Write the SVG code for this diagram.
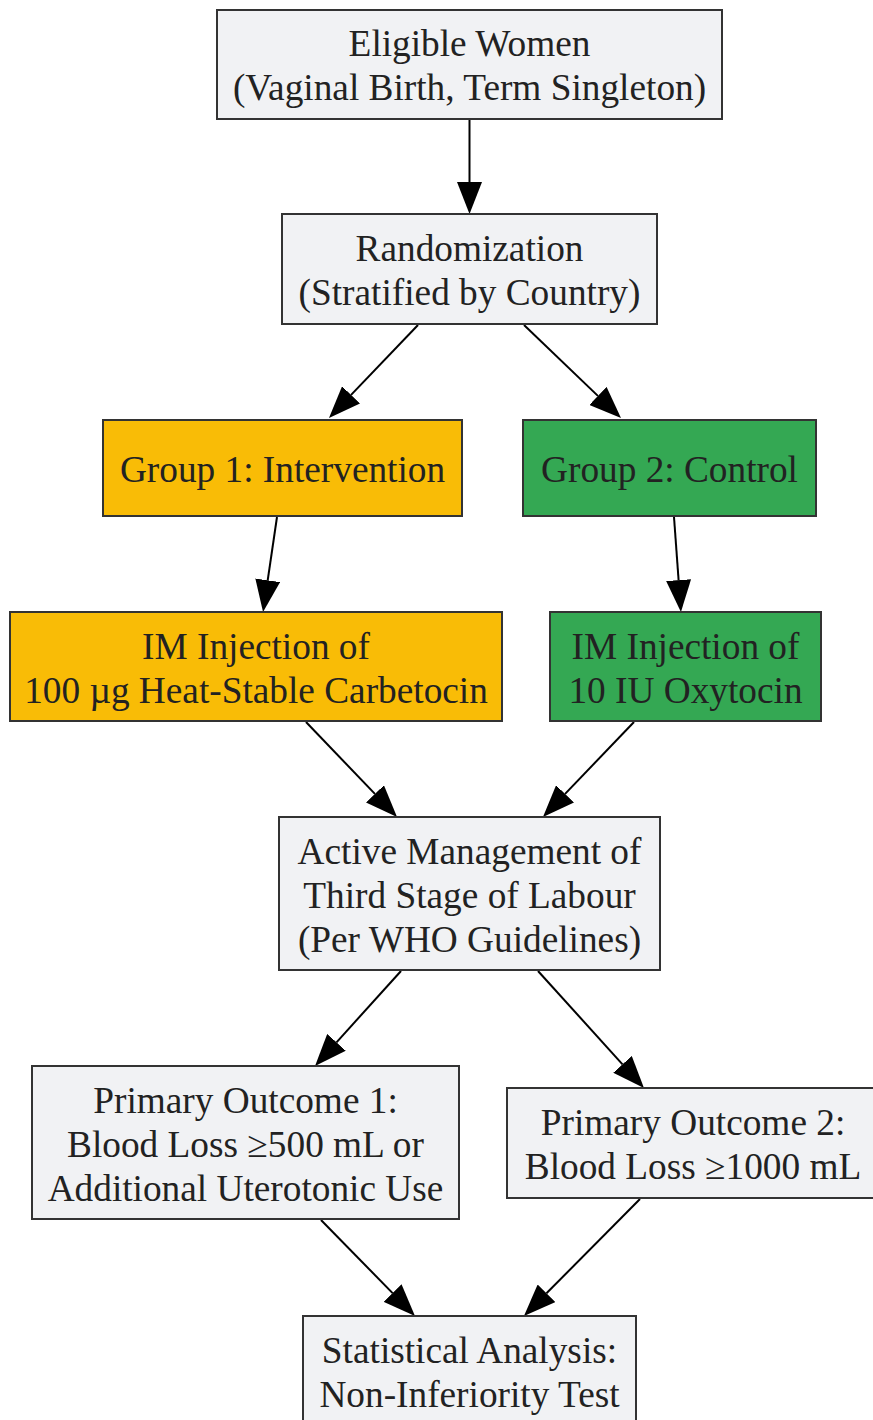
<svg xmlns="http://www.w3.org/2000/svg" width="873" height="1420" viewBox="0 0 873 1420">
<style>
.n rect{stroke:#333;stroke-width:2}
.g{fill:#f1f2f4}
.y{fill:#f9bc06}
.gr{fill:#34a853}
text{font-family:"Liberation Serif","Times New Roman",serif;font-size:37.3px;fill:#222;text-anchor:middle}
.e line{stroke:#000;stroke-width:2;marker-end:url(#ah)}
</style>
<defs>
<marker id="ah" markerUnits="userSpaceOnUse" markerWidth="33" markerHeight="25" viewBox="0 0 33 25" refX="0" refY="12.5" orient="auto">
<path d="M0,0 L32,12.5 L0,25 Z" fill="#000"/>
</marker>
</defs>
<rect width="873" height="1420" fill="#fff"/>
<g class="e" id="connectors">
<line x1="469.5" y1="119" x2="469.5" y2="182"/>
<line x1="418" y1="325" x2="351.1" y2="394.9"/>
<line x1="524" y1="325" x2="597.9" y2="395.9"/>
<line x1="277" y1="517" x2="267.7" y2="580.3"/>
<line x1="674" y1="517" x2="678.6" y2="580.1"/>
<line x1="306" y1="722" x2="374.9" y2="793.9"/>
<line x1="634" y1="722" x2="565.1" y2="793.9"/>
<line x1="401" y1="971" x2="336.5" y2="1042.3"/>
<line x1="538" y1="971" x2="622.5" y2="1064.3"/>
<line x1="321" y1="1220" x2="392.6" y2="1293.1"/>
<line x1="640" y1="1199" x2="546.5" y2="1293.3"/>
</g>
<g class="n" id="eligible"><rect class="g" x="217" y="10" width="505" height="109"/><text x="469.5" y="56">Eligible Women</text><text x="469.5" y="100">(Vaginal Birth, Term Singleton)</text></g>
<g class="n" id="randomization"><rect class="g" x="282" y="214" width="375" height="110"/><text x="469.5" y="261">Randomization</text><text x="469.5" y="305">(Stratified by Country)</text></g>
<g class="n" id="group1"><rect class="y" x="103" y="420" width="359" height="96"/><text x="282.5" y="482">Group 1: Intervention</text></g>
<g class="n" id="group2"><rect class="gr" x="523" y="420" width="293" height="96"/><text x="669.5" y="482">Group 2: Control</text></g>
<g class="n" id="carbetocin"><rect class="y" x="10" y="612" width="492" height="109"/><text x="256" y="659">IM Injection of</text><text x="256" y="703">100 µg Heat-Stable Carbetocin</text></g>
<g class="n" id="oxytocin"><rect class="gr" x="550" y="612" width="271" height="109"/><text x="685.5" y="659">IM Injection of</text><text x="685.5" y="703">10 IU Oxytocin</text></g>
<g class="n" id="amtsl"><rect class="g" x="279" y="817" width="381" height="153"/><text x="469.5" y="864">Active Management of</text><text x="469.5" y="908">Third Stage of Labour</text><text x="469.5" y="952">(Per WHO Guidelines)</text></g>
<g class="n" id="outcome1"><rect class="g" x="32" y="1066" width="427" height="153"/><text x="245.5" y="1113">Primary Outcome 1:</text><text x="245.5" y="1157">Blood Loss ≥500 mL or</text><text x="245.5" y="1201">Additional Uterotonic Use</text></g>
<g class="n" id="outcome2"><rect class="g" x="507" y="1088" width="372" height="110"/><text x="693" y="1135">Primary Outcome 2:</text><text x="693" y="1179">Blood Loss ≥1000 mL</text></g>
<g class="n" id="analysis"><rect class="g" x="303" y="1316" width="333" height="110"/><text x="469.5" y="1363">Statistical Analysis:</text><text x="469.5" y="1407">Non-Inferiority Test</text></g>
</svg>
